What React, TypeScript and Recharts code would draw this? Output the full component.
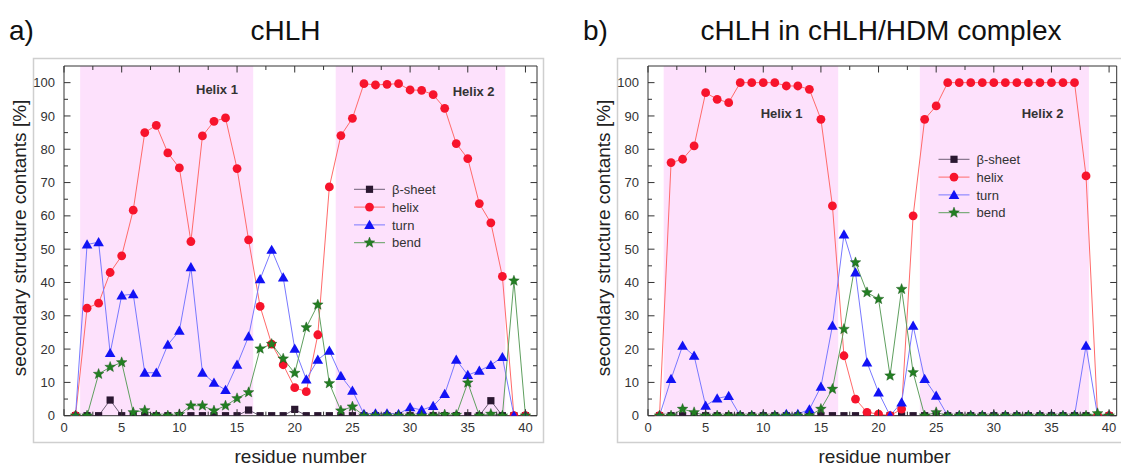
import React from 'react';
import { LineChart, Line, XAxis, YAxis, ReferenceArea } from 'recharts';

// ---------------- data ----------------
const residues = [1, 2, 3, 4, 5, 6, 7, 8, 9, 10, 11, 12, 13, 14, 15, 16, 17, 18, 19, 20, 21, 22, 23, 24, 25, 26, 27, 28, 29, 30, 31, 32, 33, 34, 35, 36, 37, 38, 39, 40];

const leftBeta = [0, 0, 0, 4.7, 0, 0, 0, 0, 0, 0, 0, 0, 0, 0, 0, 1.7, 0, 0, 0, 1.9, 0, 0, 0, 0, 0, 0, 0, 0, 0, 0, 0, 0, 0, 0, 0, 0, 4.5, 0, 0, 0];
const leftHelix = [0, 32.3, 33.8, 43.0, 48.0, 61.7, 85.0, 87.2, 78.9, 74.4, 52.3, 84.0, 88.4, 89.4, 74.2, 52.8, 32.8, 21.5, 15.3, 8.4, 7.2, 24.3, 68.7, 84.1, 89.3, 99.7, 99.3, 99.5, 99.7, 97.8, 97.7, 96.4, 92.3, 81.7, 77.2, 63.7, 57.9, 41.8, 0, 0];
const leftTurn = [0, 51.4, 52.1, 18.8, 36.1, 36.5, 12.9, 12.9, 21.3, 25.5, 44.6, 12.9, 9.9, 7.7, 15.3, 23.8, 41.0, 49.8, 41.5, 20.1, 10.9, 16.8, 19.5, 11.9, 7.5, 0.5, 0.7, 0.7, 0.5, 2.5, 1.7, 2.9, 6.5, 16.8, 12.2, 13.5, 15.2, 17.6, 0, 0];
const leftBend = [0, 0, 12.5, 14.6, 16.0, 1.0, 1.6, 0, 0, 0.4, 3.0, 3.0, 1.5, 3.0, 5.2, 7.0, 20.1, 21.5, 17.1, 12.8, 26.5, 33.3, 9.7, 1.5, 2.7, 0, 0, 0, 0, 0, 0, 0, 0.3, 0.2, 9.9, 0, 0.5, 0, 40.5, 0];

const rightBeta = [0, 0, 0, 0, 0, 0, 0, 0, 0, 0, 0, 0, 0, 0, 0, 0, 0, 0, 0, 0, 0, 0, 0, 0, 0, 0, 0, 0, 0, 0, 0, 0, 0, 0, 0, 0, 0, 0, 0, 0];
const rightHelix = [0, 76, 77, 81, 97, 95, 94, 100, 100, 100, 100, 99, 99, 98, 89, 63, 18, 5, 1, 0.5, 0, 2, 60, 89, 93, 100, 100, 100, 100, 100, 100, 100, 100, 100, 100, 100, 100, 72, 0, 0];
const rightTurn = [0, 11, 21, 18, 3, 5.2, 5.9, 0, 0, 0, 0, 0.5, 0.5, 1.9, 8.7, 27, 54.4, 43, 16, 7, 0, 4, 27, 11, 6, 0, 0, 0, 0, 0, 0, 0, 0, 0, 0, 0, 0, 21, 0, 0];
const rightBend = [0, 0, 2, 1, 0, 0, 0, 0, 0, 0, 0, 0, 0, 0, 2, 8, 26, 46, 37, 35, 12, 38, 13, 0, 1, 0, 0, 0, 0, 0, 0, 0, 0, 0, 0, 0, 0, 0, 0.7, 0];

const xLabelTicks = [0, 5, 10, 15, 20, 25, 30, 35, 40];
const xMarkTicks = [0, 2.5, 5, 7.5, 10, 12.5, 15, 17.5, 20, 22.5, 25, 27.5, 30, 32.5, 35, 37.5, 40];
const yLabelTicks = [0, 10, 20, 30, 40, 50, 60, 70, 80, 90, 100];
const yMarkTicks = [0, 5, 10, 15, 20, 25, 30, 35, 40, 45, 50, 55, 60, 65, 70, 75, 80, 85, 90, 95, 100];

const leftHelixBands = [[1.4, 16.4], [23.55, 38.25]];
const rightHelixBands = [[1.36, 16.5], [23.58, 38.25]];

// each series is bound to one pair of axes (all axes share the same domain)
const seriesDefs = [
  { key: 'beta', name: 'β-sheet', line: '#6e5f76', fill: '#2a1730', shape: 'square', xId: 'mb', yId: 'ml' },
  { key: 'helix', name: 'helix', line: '#ff6a6a', fill: '#f7142c', shape: 'circle', xId: 'mt', yId: 'mr' },
  { key: 'turn', name: 'turn', line: '#7878ff', fill: '#1212f5', shape: 'triangle', xId: 'lab', yId: 'lab' },
  { key: 'bend', name: 'bend', line: '#5f9f5f', fill: '#237f23', shape: 'star', xId: 'lab', yId: 'lab' },
];

const FONT = '"Liberation Sans", Arial, Helvetica, sans-serif';
const AX = '#333';
const TINY = 0.001;

function build(beta: number[], helix: number[], turn: number[], bend: number[]) {
  return residues.map((r, i) => ({ residue: r, beta: beta[i], helix: helix[i], turn: turn[i], bend: bend[i] }));
}
const leftData = build(leftBeta, leftHelix, leftTurn, leftBend);
const rightData = build(rightBeta, rightHelix, rightTurn, rightBend);

// ---------------- markers ----------------
function starPath(cx: number, cy: number, R: number, r: number) {
  let d = '';
  for (let i = 0; i < 10; i++) {
    const rad = i % 2 === 0 ? R : r;
    const a = -Math.PI / 2 + (i * Math.PI) / 5;
    d += (i === 0 ? 'M' : 'L') + (cx + rad * Math.cos(a)).toFixed(2) + ',' + (cy + rad * Math.sin(a)).toFixed(2);
  }
  return d + 'Z';
}

function Marker({ shape, cx, cy, fill }: { shape: string; cx: number; cy: number; fill: string }) {
  if (cx == null || cy == null) return null;
  if (shape === 'square') return <rect x={cx - 3.6} y={cy - 3.6} width={7.2} height={7.2} fill={fill} />;
  if (shape === 'circle') return <circle cx={cx} cy={cy} r={4.4} fill={fill} />;
  if (shape === 'triangle')
    return <polygon points={`${cx},${cy - 5.2} ${cx - 5.3},${cy + 4} ${cx + 5.3},${cy + 4}`} fill={fill} />;
  return <path d={starPath(cx, cy, 5.6, 2.4)} fill={fill} stroke="#145214" strokeWidth={0.4} />;
}

const makeDot = (shape: string, fill: string) => (p: any) => (
  <g key={`d-${shape}-${p.index}`}>
    <Marker shape={shape} cx={p.cx} cy={p.cy} fill={fill} />
  </g>
);

// tick marks drawn inward
const tickMark = (dir: 'up' | 'down' | 'left' | 'right', majorEvery: number) => (p: any) => {
  const v = p.payload.value;
  const major = Math.abs(v / majorEvery - Math.round(v / majorEvery)) < 1e-6;
  const len = major ? 6.5 : 4;
  const { x, y } = p;
  let x2 = x, y2 = y;
  if (dir === 'up') y2 = y - len;
  if (dir === 'down') y2 = y + len;
  if (dir === 'right') x2 = x + len;
  if (dir === 'left') x2 = x - len;
  return <line key={`t-${dir}-${v}`} x1={x} y1={y} x2={x2} y2={y2} stroke={AX} strokeWidth={1} />;
};

function Panel({ data, xMax, marginRight, bands }: { data: any[]; xMax: number; marginRight: number; bands: number[][] }) {
  return (
    <LineChart width={560} height={466} data={data} margin={{ top: 66, right: marginRight, bottom: 20.3, left: 24 }}>
      {bands.map((b, i) => (
        <ReferenceArea key={`band-${i}`} xAxisId="lab" yAxisId="lab" x1={b[0]} x2={b[1]} y1={0} y2={105} fill="#fde1fc" fillOpacity={1} stroke="none" ifOverflow="visible" />
      ))}
      <XAxis xAxisId="lab" type="number" dataKey="residue" domain={[0, xMax]} ticks={xLabelTicks} interval={0}
        height={30} tickSize={0} tickMargin={7} tickLine={false} axisLine={{ stroke: AX, strokeWidth: 1 }}
        tick={{ fill: '#333', fontSize: 13, fontFamily: FONT }} allowDataOverflow />
      <XAxis xAxisId="mb" type="number" dataKey="residue" domain={[0, xMax]} ticks={xMarkTicks} interval={0} orientation="bottom" mirror
        height={TINY} tickSize={0} tickMargin={0} tickLine={false} axisLine={false} tick={tickMark('up', 5)} allowDataOverflow />
      <XAxis xAxisId="mt" type="number" dataKey="residue" domain={[0, xMax]} ticks={xMarkTicks} interval={0} orientation="top" mirror
        height={TINY} tickSize={0} tickMargin={0} tickLine={false} axisLine={{ stroke: AX, strokeWidth: 1 }} tick={tickMark('down', 5)} allowDataOverflow />
      <YAxis yAxisId="lab" type="number" domain={[0, 105]} ticks={yLabelTicks} interval={0}
        width={40} tickSize={0} tickMargin={9} tickLine={false} axisLine={{ stroke: AX, strokeWidth: 1 }}
        tick={{ fill: '#333', fontSize: 13, fontFamily: FONT }} allowDataOverflow />
      <YAxis yAxisId="ml" type="number" domain={[0, 105]} ticks={yMarkTicks} interval={0} orientation="left" mirror
        width={TINY} tickSize={0} tickMargin={0} tickLine={false} axisLine={false} tick={tickMark('right', 10)} allowDataOverflow />
      <YAxis yAxisId="mr" type="number" domain={[0, 105]} ticks={yMarkTicks} interval={0} orientation="right" mirror
        width={TINY} tickSize={0} tickMargin={0} tickLine={false} axisLine={{ stroke: AX, strokeWidth: 1 }} tick={tickMark('left', 10)} allowDataOverflow />
      {seriesDefs.map((s) => (
        <Line key={s.key} xAxisId={s.xId} yAxisId={s.yId} type="linear" dataKey={s.key} stroke={s.line} strokeWidth={1}
          dot={makeDot(s.shape, s.fill)} activeDot={false} isAnimationActive={false} />
      ))}
    </LineChart>
  );
}

function Legend({ x, y }: { x: number; y: number }) {
  return (
    <g>
      {seriesDefs.map((s, i) => {
        const yy = y + i * 17.8;
        return (
          <g key={s.key}>
            <line x1={x} y1={yy} x2={x + 31} y2={yy} stroke={s.line} strokeWidth={1} />
            <Marker shape={s.shape} cx={x + 15.5} cy={yy} fill={s.fill} />
            <text x={x + 38} y={yy + 4.6} fontSize={13} fill="#333" fontFamily={FONT}>{s.name}</text>
          </g>
        );
      })}
    </g>
  );
}

export default function App() {
  return (
    <div style={{ position: 'absolute', left: 0, top: 0, width: 1121, height: 466, background: '#fff', overflow: 'hidden' }}>
      <svg width={1121} height={466} style={{ position: 'absolute', left: 0, top: 0 }}>
        <rect x={33.5} y={58.5} width={510} height={384} fill="none" stroke="#cfcfcf" strokeWidth={1.5} />
        <rect x={617.5} y={58.5} width={510} height={384} fill="none" stroke="#cfcfcf" strokeWidth={1.5} />
      </svg>
      <div style={{ position: 'absolute', left: 0, top: 0 }}>
        <Panel data={leftData} xMax={41} marginRight={23} bands={leftHelixBands} />
      </div>
      <div style={{ position: 'absolute', left: 584, top: 0 }}>
        <Panel data={rightData} xMax={40.66} marginRight={27.3} bands={rightHelixBands} />
      </div>
      <svg width={1121} height={466} style={{ position: 'absolute', left: 0, top: 0, pointerEvents: 'none' }} fontFamily={FONT}>
        <text x={9} y={40} fontSize={28} fill="#111">a)</text>
        <text x={285.5} y={40} fontSize={28} fill="#111" textAnchor="middle">cHLH</text>
        <text x={583} y={40} fontSize={28} fill="#111">b)</text>
        <text x={881} y={40} fontSize={28} fill="#111" textAnchor="middle">cHLH in cHLH/HDM complex</text>

        <text x={300.5} y={463} fontSize={19} fill="#222" textAnchor="middle">residue number</text>
        <text x={884.5} y={463} fontSize={19} fill="#222" textAnchor="middle">residue number</text>
        <text transform="translate(26,238) rotate(-90)" fontSize={19} fill="#222" textAnchor="middle">secondary structure contants [%]</text>
        <text transform="translate(610,238) rotate(-90)" fontSize={19} fill="#222" textAnchor="middle">secondary structure contants [%]</text>

        <text x={196} y={94} fontSize={13} fontWeight="bold" fill="#333">Helix 1</text>
        <text x={452.7} y={95.5} fontSize={13} fontWeight="bold" fill="#333">Helix 2</text>
        <text x={760.7} y={118} fontSize={13} fontWeight="bold" fill="#333">Helix 1</text>
        <text x={1021.7} y={118} fontSize={13} fontWeight="bold" fill="#333">Helix 2</text>

        <Legend x={354} y={189.3} />
        <Legend x={938.5} y={159.3} />
      </svg>
    </div>
  );
}
